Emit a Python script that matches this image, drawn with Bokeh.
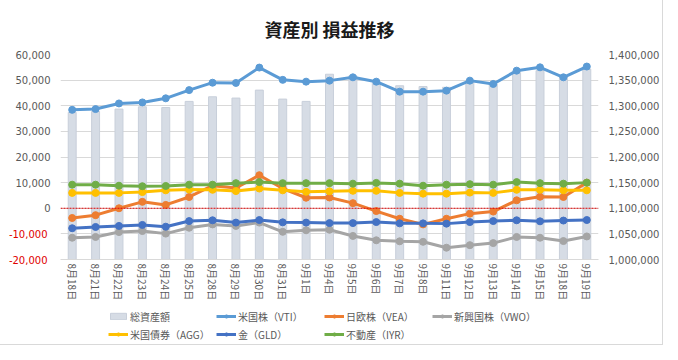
from bokeh.plotting import figure
from bokeh.layouts import column
from bokeh.models import (Range1d, LinearAxis, FixedTicker, NumeralTickFormatter, Span,
                          Legend, LegendItem, FactorRange)
from bokeh.embed import file_html
from bokeh.resources import INLINE

categories = ["8月18日", "8月21日", "8月22日", "8月23日", "8月24日", "8月25日", "8月28日",
              "8月29日", "8月30日", "8月31日", "9月1日", "9月4日", "9月5日", "9月6日",
              "9月7日", "9月8日", "9月11日", "9月12日", "9月13日", "9月14日", "9月15日",
              "9月18日", "9月19日"]

total_assets = [1287000, 1289000, 1293500, 1298000, 1296500, 1308500, 1317500, 1315000,
                1330500, 1313000, 1308500, 1361500, 1358500, 1344000, 1339000, 1337500,
                1336000, 1345500, 1342500, 1365000, 1368500, 1358500, 1371500]
vti = [38400, 38700, 40900, 41300, 42900, 46100, 49000, 48900, 54900, 50100, 49400, 49800,
       51100, 49400, 45500, 45500, 45900, 49800, 48500, 53700, 55000, 51100, 55300]
vea = [-3800, -2700, 0, 2500, 1300, 4400, 8800, 7900, 12900, 7700, 4100, 4200,
       2000, -1100, -4100, -6300, -4100, -2100, -1300, 3100, 4500, 4400, 10000]
vwo = [-11500, -11200, -9300, -8900, -9900, -7600, -6300, -6900, -5600, -9200, -8600, -8400,
       -10800, -12500, -12900, -13100, -15400, -14400, -13600, -11200, -11500, -12800, -11000]
agg = [6000, 6000, 6000, 6300, 7000, 7300, 7200, 6700, 7700, 7000, 6400, 6600,
       6800, 6800, 6000, 5700, 5700, 6100, 6000, 7200, 7200, 7000, 7000]
gld = [-7800, -7300, -6900, -6500, -7200, -5000, -4700, -5600, -4600, -5500, -5600, -5800,
       -5800, -5400, -5900, -5900, -6000, -5400, -5000, -4700, -5100, -4800, -4600]
iyr = [9200, 9200, 8800, 8600, 8700, 9200, 9200, 9800, 10200, 9800, 9800, 9800,
       9600, 9900, 9600, 8800, 9200, 9400, 9200, 10200, 9800, 9600, 10000]

series_names = ["米国株（VTI）", "日欧株（VEA）", "新興国株（VWO）", "米国債券（AGG）", "金（GLD）", "不動産（IYR）"]
series_values = [vti, vea, vwo, agg, gld, iyr]
series_colors = ["#5B9BD5", "#ED7D31", "#A5A5A5", "#FFC000", "#4472C4", "#70AD47"]
bar_name = "総資産額"
bar_color = "#D6DCE5"

left_ticks = [0, 10000, 20000, 30000, 40000, 50000, 60000]
left_red_ticks = [-20000, -10000]
grid_ticks = [-20000, -10000, 0, 10000, 20000, 30000, 40000, 50000, 60000]
right_ticks = [1000000, 1050000, 1100000, 1150000, 1200000, 1250000, 1300000, 1350000, 1400000]

TXT = "#595959"
JP = "Noto Sans CJK JP"
NUM = "DejaVu Sans"

p = figure(width=662, height=304, x_range=FactorRange(*categories),
           y_range=Range1d(-20000, 60000), output_backend="svg", toolbar_location=None,
           min_border_left=60, min_border_right=62, min_border_top=54, min_border_bottom=45,
           title="資産別 損益推移")
p.extra_y_ranges = {"total": Range1d(1000000, 1400000)}
p.outline_line_color = None

p.title.align = "center"
p.title.text_font = JP
p.title.text_font_size = "18px"
p.title.text_font_style = "bold"
p.title.text_color = "#1A1A1A"
p.title.standoff = 25

p.xgrid.visible = False
p.ygrid.ticker = FixedTicker(ticks=grid_ticks)
p.ygrid.grid_line_color = "#D9D9D9"


def style_axis(ax, color=TXT, standoff=10):
    ax.axis_line_color = None
    ax.major_tick_line_color = None
    ax.minor_tick_line_color = None
    ax.major_tick_out = 0
    ax.major_tick_in = 0
    ax.minor_tick_out = 0
    ax.minor_tick_in = 0
    ax.major_label_text_font = NUM
    ax.major_label_text_font_size = "10px"
    ax.major_label_text_color = color
    ax.major_label_standoff = standoff


# inner left axis: black labels (0 .. 60,000)
ya = p.yaxis[0]
ya.ticker = FixedTicker(ticks=left_ticks)
ya.formatter = NumeralTickFormatter(format="0,0")
style_axis(ya)

# outer left axis: red negative labels, pulled back into the same label column
red_axis = LinearAxis(ticker=FixedTicker(ticks=left_red_ticks),
                      formatter=NumeralTickFormatter(format="0,0"))
style_axis(red_axis, color="#E00000", standoff=-35)
p.add_layout(red_axis, "left")

ra = LinearAxis(y_range_name="total", ticker=FixedTicker(ticks=right_ticks),
                formatter=NumeralTickFormatter(format="0,0"))
style_axis(ra)
p.add_layout(ra, "right")

xa = p.xaxis[0]
xa.axis_line_color = "#D9D9D9"
xa.major_tick_line_color = None
xa.minor_tick_line_color = None
xa.major_tick_out = 0
xa.major_label_orientation = "vertical"
xa.major_label_text_font = JP
xa.major_label_text_font_size = "10px"
xa.major_label_text_color = TXT
xa.major_label_standoff = 4

p.vbar(x=categories, top=total_assets, bottom=1000000, width=0.34,
       y_range_name="total", fill_color=bar_color, line_color="#C8CFDA", line_width=1)

zero = Span(location=0, dimension="width", line_color="#E00000", line_dash="2 1",
            line_width=1, level="glyph")
p.add_layout(zero)

for vals, col in zip(series_values, series_colors):
    p.line(categories, vals, line_color=col, line_width=3)
    p.scatter(categories, vals, size=7, fill_color=col, line_color=col)

# legend strip: a small figure below the chart whose view shows none of the data,
# so only the legend (with its key glyphs) is visible
lp = figure(width=662, height=40, x_range=FactorRange(*categories),
            y_range=Range1d(90000000, 90000001),
            output_backend="svg", toolbar_location=None, min_border=0,
            x_axis_location=None, y_axis_location=None)
lp.outline_line_color = None
lp.xgrid.visible = False
lp.ygrid.visible = False

items = [LegendItem(label=bar_name, renderers=[
    lp.vbar(x=categories, top=total_assets, bottom=1000000, width=0.34,
            fill_color=bar_color, line_color="#C8CFDA")])]
for name, vals, col in zip(series_names, series_values, series_colors):
    r1 = lp.line(categories, vals, line_color=col, line_width=3)
    r2 = lp.scatter(categories, vals, size=7, fill_color=col, line_color=col)
    items.append(LegendItem(label=name, renderers=[r1, r2]))

common = dict(orientation="horizontal", glyph_width=20, glyph_height=8, label_standoff=2,
              label_width=86, label_height=16, spacing=0, padding=0, margin=0,
              border_line_color=None, background_fill_alpha=0,
              label_text_font=JP, label_text_font_size="10px", label_text_color=TXT)
lp.add_layout(Legend(items=items[:4], location=(48, 20), **common))
lp.add_layout(Legend(items=items[4:], location=(48, 2), **common))

layout = column(p, lp, spacing=0)
layout.styles = {"outline": "1px solid #D9D9D9"}

open("out.html", "w").write(file_html(layout, INLINE))
